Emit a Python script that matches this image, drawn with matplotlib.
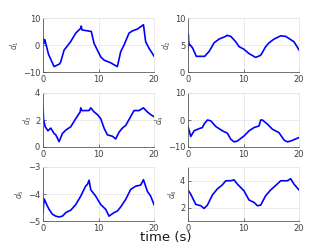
import numpy as np
import matplotlib
matplotlib.use("Agg")
import matplotlib.pyplot as plt

# values, (time, value) per panel
t1 = [0, 0.15, 0.3, 0.45, 1.0, 2.0, 3.0, 3.2, 3.8, 5.0, 5.9, 6.8, 6.9, 7.0, 8.7, 9.2, 9.8, 10.4, 11.0, 12.2, 13.4, 14.0, 14.6, 15.5, 16.1, 17.0, 18.1, 18.5, 19.1, 20.0]
d1 = [2.8, 0.6, 2.0, 1.0, -3.5, -8.0, -7.0, -6.2, -1.9, 1.3, 4.4, 6.2, 7.0, 5.6, 5.0, 0.6, -1.9, -4.4, -5.6, -6.6, -8.0, -2.5, 0.0, 4.4, 5.2, 5.9, 7.5, 1.2, -1.2, -4.1]

t2 = [0, 0.05, 0.15, 0.3, 0.8, 1.5, 3.0, 3.8, 4.7, 5.6, 6.8, 7.0, 7.7, 8.6, 9.2, 10.1, 11.0, 12.2, 13.1, 14.0, 14.6, 15.5, 16.7, 17.6, 18.2, 19.1, 19.7, 20.0]
d2 = [4.1, 7.0, 5.0, 5.1, 4.5, 2.9, 2.9, 3.8, 5.4, 6.1, 6.6, 6.8, 6.6, 5.6, 4.7, 4.2, 3.4, 2.7, 3.1, 4.7, 5.4, 6.1, 6.7, 6.6, 6.2, 5.6, 4.6, 4.1]

t3 = [0, 0.1, 0.4, 0.9, 1.4, 2.0, 2.3, 2.9, 3.5, 4.1, 5.0, 5.9, 6.7, 6.8, 7.0, 8.3, 8.6, 9.2, 9.8, 10.4, 11.0, 11.6, 12.5, 13.1, 13.7, 14.3, 14.9, 15.8, 16.4, 17.3, 18.1, 18.8, 19.4, 20.0]
d3 = [3.0, 2.0, 1.5, 1.2, 1.4, 1.0, 0.9, 0.4, 1.0, 1.25, 1.5, 2.1, 2.6, 2.9, 2.7, 2.7, 2.9, 2.6, 2.4, 2.1, 1.4, 0.9, 0.8, 0.6, 1.1, 1.4, 1.6, 2.25, 2.7, 2.7, 2.9, 2.6, 2.4, 2.25]

t4 = [0, 0.5, 1.1, 2.0, 2.6, 2.9, 3.5, 4.1, 5.0, 6.2, 7.1, 7.7, 8.3, 8.9, 10.1, 11.0, 11.9, 12.8, 13.1, 13.4, 14.3, 15.2, 16.4, 17.3, 17.9, 18.5, 20.0]
d4 = [-2.4, -6.1, -4.0, -3.2, -2.8, -1.5, 0.0, -0.3, -2.4, -4.0, -4.9, -7.1, -8.1, -7.8, -5.9, -4.0, -2.8, -2.2, 0.0, 0.0, -1.5, -3.4, -4.7, -7.4, -8.1, -7.8, -6.5]

t5 = [0, 0.2, 0.8, 1.1, 1.7, 2.3, 2.9, 3.5, 4.1, 5.0, 5.9, 6.8, 7.7, 8.0, 8.3, 8.6, 9.5, 10.4, 11.3, 11.9, 12.8, 13.4, 14.0, 14.9, 15.8, 16.7, 17.6, 18.1, 18.8, 19.4, 20.0]
d5 = [-4.69, -4.18, -4.45, -4.57, -4.75, -4.82, -4.85, -4.82, -4.69, -4.6, -4.39, -4.08, -3.7, -3.65, -3.49, -3.84, -4.08, -4.39, -4.57, -4.82, -4.69, -4.63, -4.48, -4.2, -3.83, -3.71, -3.67, -3.47, -3.9, -4.08, -4.39]

t6 = [0, 0.5, 1.4, 2.3, 2.9, 3.5, 4.4, 5.3, 6.2, 6.8, 7.7, 8.3, 8.9, 10.1, 11.0, 11.9, 12.5, 13.1, 14.0, 14.9, 15.8, 16.7, 17.9, 18.5, 19.1, 20.0]
d6 = [3.3, 2.98, 2.23, 2.13, 1.93, 2.18, 2.93, 3.38, 3.68, 3.98, 3.98, 4.05, 3.73, 3.23, 2.55, 2.38, 2.13, 2.18, 2.88, 3.3, 3.63, 3.98, 3.98, 4.13, 3.73, 3.3]

series = [(t1, d1, r"$d_1$", (-10, 10), [-10, 0, 10]),
          (t2, d2, r"$d_2$", (0, 10), [0, 5, 10]),
          (t3, d3, r"$d_3$", (0, 4), [0, 2, 4]),
          (t4, d4, r"$d_4$", (-10, 10), [-10, 0, 10]),
          (t5, d5, r"$d_5$", (-5, -3), [-5, -4, -3]),
          (t6, d6, r"$d_6$", (1, 5), [2, 4])]

fig = plt.figure(figsize=(3.32, 2.49), dpi=100)
lefts = [43 / 332, 188 / 332]
bottoms = [1 - 72 / 249, 1 - 147 / 249, 1 - 221 / 249]
w = 111 / 332
h = 54 / 249

for i, (t, d, lab, ylim, yt) in enumerate(series):
    ax = fig.add_axes([lefts[i % 2], bottoms[i // 2], w, h])
    ax.plot(t, d, color=(0, 0, 1), lw=1.2)
    ax.set_xlim(0, 20)
    ax.set_ylim(*ylim)
    ax.set_xticks([0, 10, 20])
    ax.set_yticks(yt)
    ax.grid(True, color='0.9', lw=0.6)
    ax.set_axisbelow(True)
    for s in ['top', 'right']:
        ax.spines[s].set_color('0.9')
        ax.spines[s].set_linewidth(0.6)
    for s in ['left', 'bottom']:
        ax.spines[s].set_color('0.35')
        ax.spines[s].set_linewidth(0.6)
    ax.tick_params(direction='in', length=2, width=0.5, labelsize=6,
                   colors='0.25', pad=2)
    ax.set_ylabel(lab, fontsize=5.5, color='0.3', labelpad=1)

fig.text(0.5, 0.045, "time (s)", ha='center', va='center', fontsize=9.5, color='0.1')

fig.savefig("out.png", dpi=100)
